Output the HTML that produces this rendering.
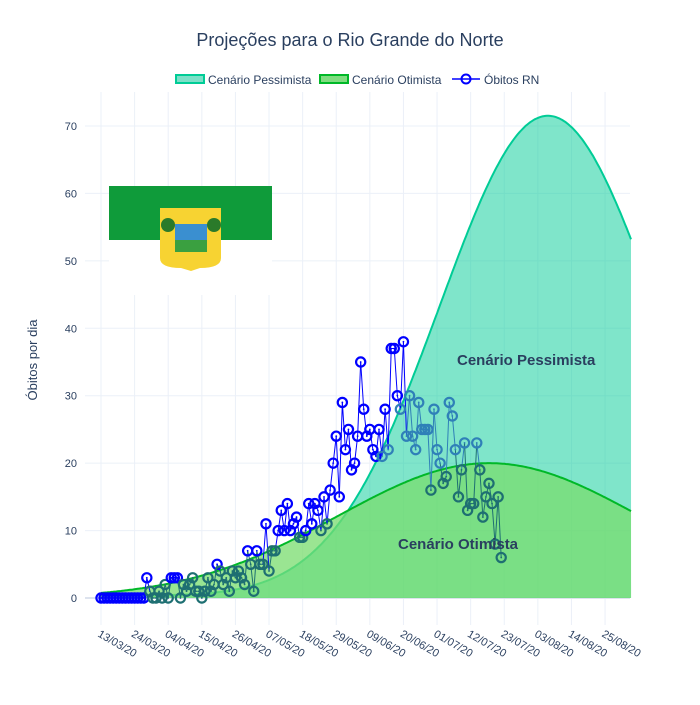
<!DOCTYPE html>
<html><head><meta charset="utf-8"><style>
body{margin:0;background:#fff;font-family:"Liberation Sans",sans-serif;}
svg text{font-family:"Liberation Sans",sans-serif;}
</style></head><body>
<svg id="s" width="700" height="700" xmlns="http://www.w3.org/2000/svg">
<rect width="700" height="700" fill="#fff"/>
<g id="grid" stroke="#ebf0f8" stroke-width="1"></g>
<text x="350" y="46" text-anchor="middle" font-size="18" fill="#2a3f5f">Projeções para o Rio Grande do Norte</text>
<g font-size="12" fill="#2a3f5f">
<rect x="176" y="75" width="28" height="8" fill="#7de0c8" stroke="#00cc96" stroke-width="2"/>
<text x="208" y="84">Cenário Pessimista</text>
<rect x="320" y="75" width="28" height="8" fill="#80dd80" stroke="#00b828" stroke-width="2"/>
<text x="352" y="84">Cenário Otimista</text>
<line x1="452" y1="79" x2="480" y2="79" stroke="#0000ff" stroke-width="1.5"/>
<circle cx="466" cy="79" r="4.5" fill="none" stroke="#0000ff" stroke-width="2"/>
<text x="484" y="84">Óbitos RN</text>
</g>
<text transform="translate(37,360) rotate(-90)" text-anchor="middle" font-size="13" fill="#2a3f5f">Óbitos por dia</text>
<g id="yt" font-size="11" fill="#2a3f5f" text-anchor="end"></g>
<g id="xt" font-size="11" fill="#2a3f5f"></g>
<rect x="109" y="186" width="163" height="54" fill="#0f9b3a"/>
<rect x="109" y="240" width="163" height="55" fill="#fff"/>
<path d="M160 208 H221 V258 Q221 268 200 268 L191 271 L181 268 Q160 268 160 258 Z" fill="#f7d332"/>
<rect x="175" y="224" width="32" height="28" fill="#3a8fd0"/>
<rect x="175" y="240" width="32" height="12" fill="#3aa040"/>
<circle cx="168" cy="225" r="7" fill="#2a7a2a"/><circle cx="214" cy="225" r="7" fill="#2a7a2a"/>
<g id="curves"></g>
<g id="data"></g>
<text x="457" y="365" font-size="15" font-weight="bold" fill="#2a3f5f">Cenário Pessimista</text>
<text x="398" y="549" font-size="15" font-weight="bold" fill="#2a3f5f">Cenário Otimista</text>
</svg>
<script>
var NS="http://www.w3.org/2000/svg";
function el(p,t,a,txt){var e=document.createElementNS(NS,t);for(var k in a)e.setAttribute(k,a[k]);if(txt!==undefined)e.textContent=txt;document.getElementById(p).appendChild(e);return e;}
function X(d){return 101+d*3.055;}
function Y(v){return 598-v*6.743;}
var labels=["13/03/20","24/03/20","04/04/20","15/04/20","26/04/20","07/05/20","18/05/20","29/05/20","09/06/20","20/06/20","01/07/20","12/07/20","23/07/20","03/08/20","14/08/20","25/08/20"];
for(var i=0;i<16;i++){var x=X(i*11);el("grid","line",{x1:x,y1:92,x2:x,y2:625});
el("xt","text",{transform:"translate("+(x-4)+",636) rotate(30)"},labels[i]);}
for(var v=0;v<=70;v+=10){var y=Y(v);el("grid","line",{x1:85,y1:y,x2:630,y2:y,stroke:v==0?"#dde3ee":"#ebf0f8","stroke-width":v==0?2:1});
el("yt","text",{x:77,y:y+4},v);}
function fp(d){return 71.5*Math.exp(-Math.pow(d-146.3,2)/2500)+0.5*Math.exp(-d/40);}
function fo(d){return 20*Math.exp(-Math.pow(d-127,2)/4920);}
function col(d,v){if(d<15)return "#0000ff";if(v<=fo(d)+0.3)return "#1e6f72";if(v<=fp(d)+0.3)return "#2f80b8";return "#0000ff";}
function curve(f,fill,stroke){var s="M"+X(0)+","+Y(0),l="";
for(var d=0;d<=173.5;d+=0.5){var p=X(d).toFixed(1)+","+Y(f(d)).toFixed(1);s+=" L"+p;l+=(l?" L":"M")+p;}
s+=" L"+X(173.5)+","+Y(0)+" Z";
el("curves","path",{d:s,fill:fill,stroke:"none"});el("curves","path",{d:l,fill:"none",stroke:stroke,"stroke-width":2});}
curve(fp,"rgba(0,204,150,0.5)","#00cc96");
curve(fo,"rgba(120,220,110,0.75)","#00b828");
var data=[0,0,0,0,0,0,0,0,0,0,0,0,0,0,0,3,1,0,0,1,0,2,0,3,3,3,0,2,1,2,3,1,1,0,1,3,1,2,5,4,2,3,1,4,3,4,3,2,7,5,1,7,5,5,11,4,7,7,10,13,10,14,10,11,12,9,9,10,14,11,14,13,10,15,11,16,20,24,15,29,22,25,19,20,24,35,28,24,25,22,21,25,21,28,22,37,37,30,28,38,24,30,24,22,29,25,25,25,16,28,22,20,17,18,29,27,22,15,19,23,13,14,14,23,19,12,15,17,14,8,15,6];
for(var d=0;d<data.length-1;d++){var c=col(d+0.5,Math.min(data[d],data[d+1])+Math.abs(data[d]-data[d+1])*0.5);
el("data","line",{x1:X(d),y1:Y(data[d]),x2:X(d+1),y2:Y(data[d+1]),stroke:c,"stroke-width":1});}
data.forEach(function(v,d){var c=col(d,v);el("data","circle",{cx:X(d),cy:Y(v),r:4.6,fill:"none",stroke:c,"stroke-width":2.2});
el("data","circle",{cx:X(d),cy:Y(v),r:0.9,fill:c});});
</script>
</body></html>
